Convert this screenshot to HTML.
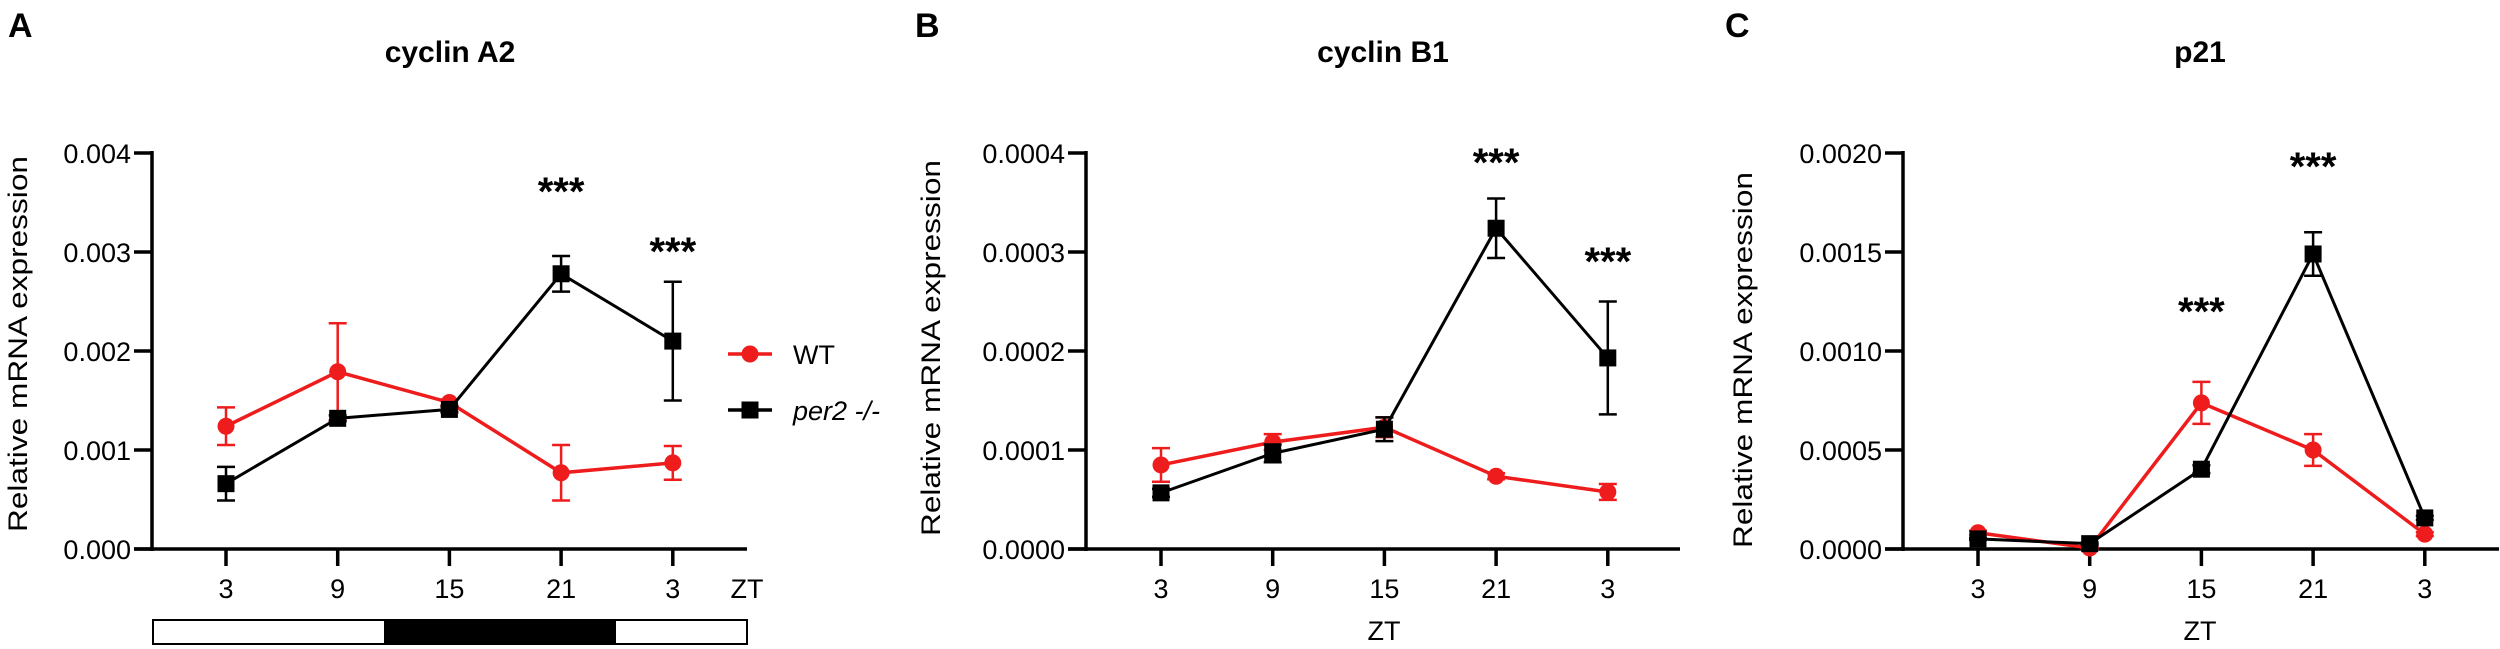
<!DOCTYPE html>
<html><head><meta charset="utf-8"><style>
html,body{margin:0;padding:0;background:#fff;}
svg{display:block;font-family:"Liberation Sans",Arial,sans-serif;}
</style></head><body>
<svg id="chart" width="2500" height="649" viewBox="0 0 2500 649" xmlns="http://www.w3.org/2000/svg"></svg>
<script>
const categories = ["3","9","15","21","3"];
const aWT = [0.00124,0.00179,0.00148,0.00077,0.00087];
const aWTerr = [0.00019,0.00049,0.00003,0.00028,0.00017];
const aKO = [0.00066,0.00132,0.00141,0.00278,0.0021];
const aKOerr = [0.00017,0.00003,0.00003,0.00018,0.0006];
const aTicks = ["0.000","0.001","0.002","0.003","0.004"];
const bWT = [0.0000849,0.000108,0.000123,0.0000735,0.0000576];
const bWTerr = [0.000017,0.000008,0.00001,0.000003,0.000008];
const bKO = [0.0000567,0.0000966,0.000121,0.000324,0.000193];
const bKOerr = [0.000004,0.000009,0.000012,0.00003,0.000057];
const bTicks = ["0.0000","0.0001","0.0002","0.0003","0.0004"];
const cWT = [0.000082,0.000005,0.000738,0.0005,0.000075];
const cWTerr = [0.00001,0.000005,0.000106,0.00008,0.00001];
const cKO = [0.000051,0.000027,0.000403,0.00149,0.000157];
const cKOerr = [0.000005,0.000005,0.00002,0.00011,0.00001];
const cTicks = ["0.0000","0.0005","0.0010","0.0015","0.0020"];

const NS="http://www.w3.org/2000/svg";
const svg=document.getElementById('chart');
function mk(tag,attrs,parent,text){const e=document.createElementNS(NS,tag);for(const k in attrs)e.setAttribute(k,attrs[k]);if(text!==undefined)e.textContent=text;(parent||svg).appendChild(e);return e;}

function panel(cfg){
  const g=mk('g',{});
  
  
  const x0=cfg.ax, xEnd=cfg.axEnd, y0=549, yTop=153;
  const ymax=cfg.ymax;
  const Y=v=>y0-(v/ymax)*(y0-yTop);
  const X=i=>cfg.firstX+i*111.7;
  const L=mk('text',{x:cfg.letterX,y:37,'font-size':34,'font-weight':'bold'},g,cfg.letter);
  
  
  const T=mk('text',{x:cfg.titleX,y:62,'font-size':30,'font-weight':'bold','text-anchor':'middle'},g,cfg.title);
  
  
  const ya=mk('line',{x1:x0,y1:yTop-2,x2:x0,y2:y0+2,stroke:'#000','stroke-width':3.5},g);
  
  
  const xa=mk('line',{x1:x0-18,y1:y0,x2:xEnd,y2:y0,stroke:'#000','stroke-width':3.5},g);
  
  
  cfg.ticks.forEach((t,i)=>{
    const yy=Y(ymax*i/(cfg.ticks.length-1));
    const tl=mk('line',{x1:x0-18,y1:yy,x2:x0,y2:yy,stroke:'#000','stroke-width':3.5},g);
    
    
    const tx=mk('text',{x:x0-21,y:yy+10,'font-size':27,'text-anchor':'end'},g,t);
    
    
  });
  categories.forEach((c,i)=>{
    const xx=X(i);
    const tl=mk('line',{x1:xx,y1:y0,x2:xx,y2:y0+17,stroke:'#000','stroke-width':3.5},g);
    
    
    const tx=mk('text',{x:xx,y:598,'font-size':27,'text-anchor':'middle'},g,c);
    
    
  });
  const zt=mk('text',{x:cfg.ztX,y:cfg.ztY,'font-size':27,'text-anchor':'middle'},g,'ZT');
  
  
  const yt=mk('text',{x:0,y:0,'font-size':27,'text-anchor':'middle',transform:`translate(${cfg.ytX},${cfg.ytY}) rotate(-90)`,textLength:376,lengthAdjust:'spacingAndGlyphs'},g,'Relative mRNA expression');
  
  
  const series=[{v:cfg.wt,e:cfg.wtErr,col:'#ee1c1c',shape:'circle',name:'wt'},{v:cfg.ko,e:cfg.koErr,col:'#000',shape:'square',name:'per2'}];
  series.forEach(s=>{
    const sg=mk('g',{},g);
    
    
    s.v.forEach((v,i)=>{
      const xx=X(i),yh=Y(v+s.e[i]),yl=Y(Math.max(0,v-s.e[i]));
      const eb=mk('path',{d:`M${xx},${yh}V${yl}M${xx-9},${yh}H${xx+9}M${xx-9},${yl}H${xx+9}`,stroke:s.col,'stroke-width':2.5,fill:'none'},sg);
      
      
    });
    const pts=s.v.map((v,i)=>X(i)+','+Y(v)).join(' ');
    const pl=mk('polyline',{points:pts,fill:'none',stroke:s.col,'stroke-width':s.name==='wt'?3.5:3},sg);
    
    
    s.v.forEach((v,i)=>{
      let m;
      if(s.shape==='circle') m=mk('circle',{cx:X(i),cy:Y(v),r:8.5,fill:s.col},sg);
      else m=mk('rect',{x:X(i)-8.5,y:Y(v)-8.5,width:17,height:17,fill:s.col},sg);
      
      
    });
  });
  cfg.stars.forEach(st=>{
    const s=mk('text',{x:X(st[0]),y:st[1],'font-size':40,'font-weight':'bold','text-anchor':'middle'},g,'***');
    
    
  });
  return {g,X};
}

const A=panel({name:'panel-a-cyclin-a2',letter:'A',letterX:8,title:'cyclin A2',titleX:450,ax:152,axEnd:747,firstX:226,ymax:0.004,ticks:aTicks,wt:aWT,wtErr:aWTerr,ko:aKO,koErr:aKOerr,ztX:747,ztY:598,ytX:27,ytY:344,stars:[[3,205],[4,265]]});
const B=panel({name:'panel-b-cyclin-b1',letter:'B',letterX:915,title:'cyclin B1',titleX:1383,ax:1086,axEnd:1680,firstX:1161,ymax:0.0004,ticks:bTicks,wt:bWT,wtErr:bWTerr,ko:bKO,koErr:bKOerr,ztX:1384,ztY:640,ytX:940,ytY:348,stars:[[3,176],[4,275]]});
const C=panel({name:'panel-c-p21',letter:'C',letterX:1725,title:'p21',titleX:2200,ax:1903,axEnd:2499,firstX:1978,ymax:0.002,ticks:cTicks,wt:cWT,wtErr:cWTerr,ko:cKO,koErr:cKOerr,ztX:2200,ztY:640,ytX:1752,ytY:360,stars:[[3,180],[2,325]]});

const lb=mk('g',{});


const r1=mk('rect',{x:153,y:620,width:594,height:24,fill:'#fff',stroke:'#000','stroke-width':2},lb);


const r2=mk('rect',{x:384,y:620,width:232,height:24,fill:'#000'},lb);



const lg=mk('g',{});


const e1=mk('g',{},lg);


mk('line',{x1:728,y1:354,x2:772,y2:354,stroke:'#ee1c1c','stroke-width':3.5},e1);
mk('circle',{cx:750,cy:354,r:8.5,fill:'#ee1c1c'},e1);
mk('text',{x:793,y:364,'font-size':27},e1,'WT');
const e2=mk('g',{},lg);


mk('line',{x1:728,y1:410,x2:772,y2:410,stroke:'#000','stroke-width':3.5},e2);
mk('rect',{x:741.5,y:401.5,width:17,height:17,fill:'#000'},e2);
mk('text',{x:793,y:420,'font-size':27,'font-style':'italic'},e2,'per2 -/-');
</script>
</body></html>
